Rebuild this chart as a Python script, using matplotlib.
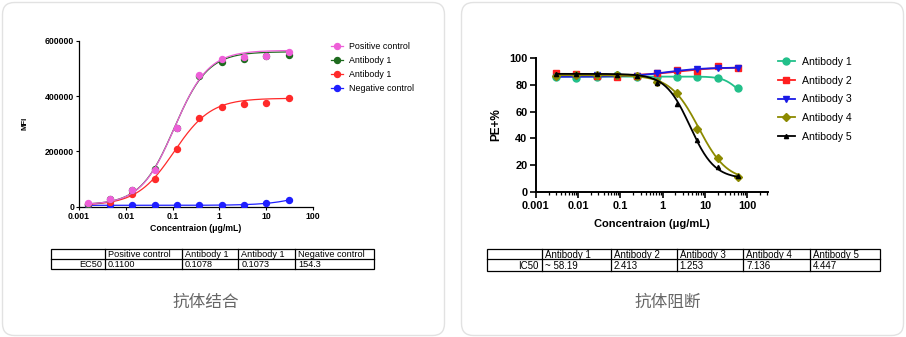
import numpy as np
import matplotlib
matplotlib.use('Agg')
import matplotlib.pyplot as plt
from matplotlib.patches import FancyBboxPatch, Rectangle

plt.rcParams['font.family'] = ['Liberation Sans', 'DejaVu Sans']

# ---- binding assay (left) ----
bind_conc = [0.00152, 0.00457, 0.0137, 0.0412, 0.123, 0.370, 1.11, 3.33, 10, 30]
bind_pos = [14500, 27700, 60000, 132500, 284000, 474700, 532500, 542000, 544500, 558000]
bind_ab1_green = [10000, 27000, 59000, 135000, 285000, 472000, 522000, 535000, 545000, 549000]
bind_ab1_red = [8400, 18000, 46000, 99000, 207000, 320000, 361000, 371000, 376000, 394000]
bind_neg = [5000, 5000, 5000, 5000, 5500, 5500, 6000, 7500, 13000, 25000]
bind_labels = ['Positive control', 'Antibody 1', 'Antibody 1', 'Negative control']
bind_colors = ['#EE5FD8', '#1E6B1E', '#FF2A2A', '#1F1FFF']
# 4PL fit: (start, end, midpoint, hill)
bind_fit = [(7000, 565000, 0.1100, 1.2),
            (7000, 560000, 0.1078, 1.2),
            (5000, 392000, 0.1073, 1.1),
            (5000, 122000, 154.3, 1.0)]
ec50_text = ['0.1100', '0.1078', '0.1073', '154.3']

# ---- blocking assay (right) ----
block_conc = [0.00305, 0.00914, 0.0274, 0.0823, 0.247, 0.741, 2.22, 6.67, 20, 60]
block_ab1 = [85.4, 84.9, 85.9, 87.1, 85.4, 85.9, 85.9, 85.4, 84.7, 77.2]
block_ab2 = [88.4, 87.9, 86.4, 85.9, 86.6, 88.4, 90.8, 90.3, 94.1, 92.6]
block_ab3 = [86.0, 86.2, 86.8, 86.3, 86.2, 88.9, 90.2, 91.8, 92.6, 92.4]
block_ab4 = [86.2, 87.0, 87.2, 87.0, 86.5, 82.0, 73.7, 47.0, 25.2, 11.5]
block_ab5 = [88.2, 88.0, 87.8, 87.3, 86.5, 81.5, 65.6, 38.9, 19.0, 12.0]
block_labels = ['Antibody 1', 'Antibody 2', 'Antibody 3', 'Antibody 4', 'Antibody 5']
block_colors = ['#22C08A', '#FF1F1F', '#1A1AE6', '#8C8A00', '#000000']
block_markers = ['o', 's', 'v', 'D', '^']
block_fit = [(86.0, 68.0, 58.19, 2.5),
             (86.8, 92.8, 2.413, 1.0),
             (85.8, 92.7, 1.253, 1.0),
             (87.0, 8.5, 7.136, 1.3),
             (88.0, 10.0, 4.447, 1.5)]
ic50_text = ['~ 58.19', '2.413', '1.253', '7.136', '4.447']


def four_pl(x, start, end, mid, hill):
    return start + (end - start) / (1 + (mid / x) ** hill)


fig = plt.figure(figsize=(9.06, 3.37), dpi=100)

# background cards in pixel coords
bg = fig.add_axes([0, 0, 1, 1], zorder=-1)
bg.set_xlim(0, 906)
bg.set_ylim(337, 0)
bg.axis('off')
for x0 in (2.5, 461.5):
    bg.add_patch(FancyBboxPatch((x0, 2.5), 442, 333, boxstyle='round,pad=0,rounding_size=12',
                                ec='#e2e2e2', fc='white', lw=1))

# ---- left chart ----
ax1 = fig.add_axes([79 / 906, (337 - 206.7) / 337, 234 / 906, 166 / 337])
xs = np.logspace(np.log10(bind_conc[0]), np.log10(bind_conc[-1]), 200)
series = [bind_pos, bind_ab1_green, bind_ab1_red, bind_neg]
# positive control goes on top, as in the original
for k, (ys, col, p) in enumerate(zip(series, bind_colors, bind_fit)):
    z = 10 - k
    ax1.plot(xs, four_pl(xs, *p), color=col, lw=0.9, zorder=z)
    ax1.plot(bind_conc, ys, 'o', color=col, ms=4.3, zorder=z)
ax1.set_xscale('log')
ax1.set_xlim(0.001, 100)
ax1.set_ylim(0, 600000)
ax1.set_xticks([0.001, 0.01, 0.1, 1, 10, 100])
ax1.set_xticklabels(['0.001', '0.01', '0.1', '1', '10', '100'])
ax1.xaxis.set_minor_locator(matplotlib.ticker.NullLocator())
ax1.set_yticks([0, 200000, 400000, 600000])
ax1.set_yticklabels(['0', '200000', '400000', '600000'])
ax1.tick_params(labelsize=6.2, length=2, width=0.8, pad=1.5)
for t in ax1.get_xticklabels() + ax1.get_yticklabels():
    t.set_fontweight('bold')
for s in ('top', 'right'):
    ax1.spines[s].set_visible(False)
for s in ('left', 'bottom'):
    ax1.spines[s].set_linewidth(0.9)
ax1.set_xlabel('Concentraion (μg/mL)', fontsize=6.3, fontweight='bold')
ax1.xaxis.set_label_coords(0.5, -0.105)
ax1.set_ylabel('MFI', fontsize=5.6, fontweight='bold')
ax1.yaxis.set_label_coords(-0.214, 0.5)
lines = [plt.Line2D([], [], color=c, marker='o', ms=4.3, lw=0.9) for c in bind_colors]
ax1.legend(lines, bind_labels, loc='upper left', bbox_to_anchor=(331 / 906, 1 - 42 / 337),
           bbox_transform=fig.transFigure, frameon=False, fontsize=6.4, borderpad=0,
           borderaxespad=0, handlelength=1.4, handletextpad=0.6, labelspacing=0.55)

# ---- right chart ----
ax2 = fig.add_axes([535.8 / 906, (337 - 192.3) / 337, 231.7 / 906, 134.6 / 337])
xs2 = np.logspace(np.log10(block_conc[0]), np.log10(block_conc[-1]), 200)
handles = []
for ys, col, mk, p in zip([block_ab1, block_ab2, block_ab3, block_ab4, block_ab5],
                          block_colors, block_markers, block_fit):
    ms = {'o': 5, 's': 5, 'v': 4.5, 'D': 3.8, '^': 3}[mk]
    ax2.plot(xs2, four_pl(xs2, *p), color=col, lw=1.3)
    ax2.plot(block_conc, ys, mk, color=col, ms=ms)
    handles.append(plt.Line2D([], [], color=col, marker=mk, ms=ms, lw=1.3))
ax2.set_xscale('log')
ax2.set_xlim(0.001, 10 ** 2.48)
ax2.set_ylim(0, 100)
ax2.set_xticks([0.001, 0.01, 0.1, 1, 10, 100])
ax2.set_xticklabels(['0.001', '0.01', '0.1', '1', '10', '100'])
ax2.xaxis.set_minor_locator(matplotlib.ticker.LogLocator(subs=np.arange(2, 10)))
ax2.xaxis.set_minor_formatter(matplotlib.ticker.NullFormatter())
ax2.set_yticks([0, 20, 40, 60, 80, 100])
ax2.tick_params(labelsize=7.9, length=4, width=1.2, pad=2)
ax2.tick_params(which='minor', length=2, width=0.9)
for t in ax2.get_xticklabels() + ax2.get_yticklabels():
    t.set_fontweight('bold')
for s in ('top', 'right'):
    ax2.spines[s].set_visible(False)
for s in ('left', 'bottom'):
    ax2.spines[s].set_linewidth(1.4)
ax2.set_xlabel('Concentraion (μg/mL)', fontsize=8, fontweight='bold')
ax2.xaxis.set_label_coords(0.5, -0.198)
ax2.set_ylabel('PE+%', fontsize=8.5, fontweight='bold')
ax2.yaxis.set_label_coords(-0.146, 0.5)
ax2.legend(handles, block_labels, loc='upper left', bbox_to_anchor=(778 / 906, 1 - 57 / 337),
           bbox_transform=fig.transFigure, frameon=False, fontsize=7.6, borderpad=0,
           borderaxespad=0, handlelength=1.6, handletextpad=0.7, labelspacing=0.82)


# ---- tables ----
def draw_table(edges, top, mid, bot, header, label, values, size):
    bg.add_patch(Rectangle((edges[0], top), edges[-1] - edges[0], bot - top,
                           fill=False, ec='black', lw=0.9))
    bg.plot([edges[0], edges[-1]], [mid, mid], color='black', lw=0.9)
    for xe in edges[1:-1]:
        bg.plot([xe, xe], [top, bot], color='black', lw=0.9)
    for i, (hd, v) in enumerate(zip(header, values)):
        bg.text(edges[i + 1] + 3, (top + mid) / 2 + 0.5, hd, fontsize=size, va='center', ha='left')
        bg.text(edges[i + 1] + 3, (mid + bot) / 2 + 0.5, v, fontsize=size, va='center', ha='left')
    bg.text(edges[1] - 3, (mid + bot) / 2 + 0.5, label, fontsize=size, va='center', ha='right')


draw_table([51, 105, 181.7, 238.3, 295, 374.3], 249, 259, 269.3,
           bind_labels, 'EC50', ec50_text, 6.6)
draw_table([487.3, 541.7, 611, 676.7, 743.3, 810, 880], 248.7, 259.3, 271,
           block_labels, 'IC50', ic50_text, 7)

cjk = ['Noto Sans CJK SC', 'DejaVu Sans']
bg.text(206, 302, '抗体结合', fontsize=12, color='#666666', ha='center', va='center', family=cjk)
bg.text(667.5, 302, '抗体阻断', fontsize=12, color='#666666', ha='center', va='center', family=cjk)

fig.savefig('out.png', dpi=100)
